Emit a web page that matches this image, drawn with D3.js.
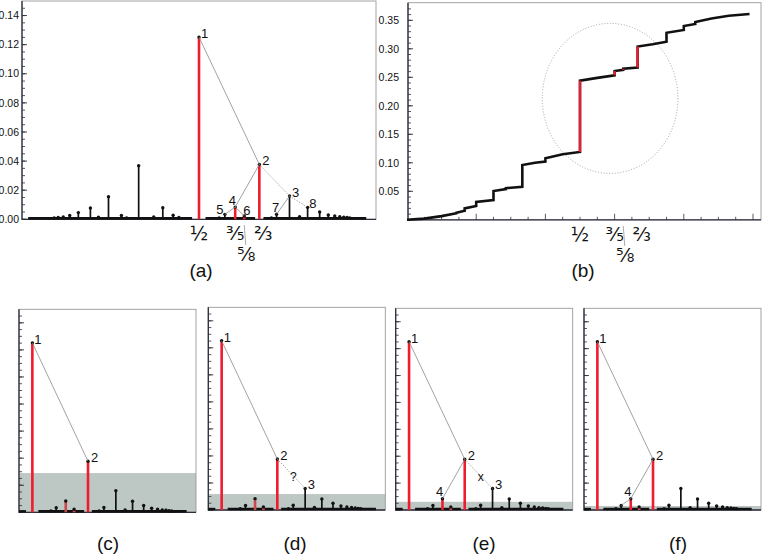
<!DOCTYPE html>
<html>
<head>
<meta charset="utf-8">
<script src="https://cdn.jsdelivr.net/npm/d3@7"></script>
<style>
  body { margin: 0; background: #fff; }
  text { font-family: "Liberation Sans", Arial, sans-serif; fill: #111; }
</style>
</head>
<body>
<svg id="fig" width="763" height="554"></svg>
<script>
// spectrum: one stem per rational, height
const stemFrac = ["1/20","1/12","1/11","1/10","1/9","1/8","1/7","1/6","2/11","1/5","2/9","3/13","1/4","3/11","2/7","3/10",
  "1/3","7/20","4/11","3/8","2/5","5/12","3/7","4/9","5/11","1/2","6/11","5/9","4/7","7/12","3/5","8/13","5/8","7/11",
  "2/3","7/10","5/7","8/11","3/4","10/13","7/9","4/5","9/11","5/6","11/13","6/7","7/8","8/9","9/10","10/11","11/12",
  "12/13","13/14","14/15","19/20"];
const stemHeight = [0.0005,0.0006,0.0008,0.0010,0.0012,0.0016,0.0026,0.0046,0.0006,0.0078,0.0015,0.0005,0.0155,0.0007,0.0026,0.0010,
  0.0368,0.0005,0.0008,0.0016,0.0080,0.0006,0.0028,0.0012,0.0006,0.1252,0.0006,0.0010,0.0034,0.0006,0.0084,0.0005,0.0023,0.0008,
  0.0377,0.0010,0.0035,0.0008,0.0160,0.0005,0.0018,0.0082,0.0007,0.0050,0.0006,0.0030,0.0023,0.0018,0.0015,0.0012,0.0010,
  0.0008,0.0008,0.0006,0.0005];
// dense runs of tiny peaks that look like a thick baseline
const baseRuns = [[0.028, 0.481], [0.518, 0.655], [0.678, 0.962]];
const highlighted = ["1/2", "2/3", "3/5", "5/8"];

// numbered nodes of the search tree
const nodeFrac = ["1/2", "2/3", "3/4", "3/5", "4/7", "5/8", "5/7", "4/5"];
const linksA = [[1, 2], [2, 4], [4, 5], [4, 6], [3, 7]];
const dottedA = [[2, 3], [3, 8]];

// staircase (b)
const stairX = [0, 0.05, 0.10, 0.143, 0.143, 0.1667, 0.1667, 0.2, 0.2, 0.25, 0.25, 0.2857, 0.2857, 0.3333, 0.3333,
  0.37, 0.4, 0.4, 0.45, 0.5, 0.5, 0.55, 0.6, 0.6, 0.625, 0.625, 0.6667, 0.6667, 0.71, 0.75, 0.75, 0.8, 0.8,
  0.8333, 0.8333, 0.88, 0.93, 0.99];
const stairY = [0, 0.002, 0.0065, 0.0115, 0.0125, 0.016, 0.020, 0.0242, 0.0312, 0.0347, 0.0505, 0.054, 0.0555, 0.058, 0.096,
  0.100, 0.102, 0.108, 0.115, 0.119, 0.244, 0.249, 0.2535, 0.261, 0.263, 0.265, 0.267, 0.304, 0.308, 0.3125, 0.328, 0.333, 0.340,
  0.3435, 0.347, 0.353, 0.358, 0.361];
const focusCenter = [0.587, 0.213];
const focusRadius = [0.196, 0.1316];

// axis ticks
const yMajorA = [0, 0.02, 0.04, 0.06, 0.08, 0.10, 0.12, 0.14];
const yMajorB = [0.05, 0.10, 0.15, 0.20, 0.25, 0.30, 0.35];
const xMajorB = [0.2, 0.4, 0.6, 0.8, 1.0];
const axisFrac = ["1/2", "3/5", "2/3", "5/8"];
const axisGlyph = ["½", "⅗", "⅔", "⅝"];

// bottom row: threshold band and what the search has found so far
const panelName = ["(c)", "(d)", "(e)", "(f)"];
const threshold = [0.029, 0.0118, 0.0061, 0.003];
const foundNodes = [[1, 2], [1, 2, 3], [1, 2, 3, 4], [1, 2, 4]];
const panelLinks = [[[1, 2]], [[1, 2]], [[1, 2], [2, 4]], [[1, 2], [2, 4], [4, 5]]];
const panelDotted = [[], [[2, 3]], [[2, 3]], []];
const panelMark = ["", "?", "x", ""];

const svg = d3.select("#fig");
const RED = "#ee1c2c", RED_FADED = "#c9474d", INK = "#111", AXIS = "#2d2d3c", FRAME = "#9a9a9a", LINK = "#8a8a8a";
const frac = s => { const [p, q] = s.split("/").map(Number); return p / q; };
const stems = stemFrac.map((f, i) => ({ f, v: frac(f), h: stemHeight[i] }));
const heightOf = f => stems.find(d => d.f === f).h;

function frame(g, x0, y0, x1, y1) {
  g.append("rect").attr("x", x0).attr("y", y0).attr("width", x1 - x0).attr("height", y1 - y0)
    .attr("fill", "none").attr("stroke", FRAME).attr("stroke-width", 0.9);
  g.append("path").attr("d", `M${x0},${y0}V${y1}H${x1}`)
    .attr("fill", "none").attr("stroke", AXIS).attr("stroke-width", 1.3);
}

function yTicks(g, y, x0, step, top, major, labels, pad) {
  const minor = d3.range(0, top + 1e-9, step);
  g.append("g").selectAll("line").data(minor).join("line")
    .attr("x1", x0).attr("x2", x0 + 3).attr("y1", d => y(d)).attr("y2", d => y(d))
    .attr("stroke", AXIS).attr("stroke-width", 0.8);
  if (major) {
    g.append("g").selectAll("line").data(major).join("line")
      .attr("x1", x0).attr("x2", x0 + 5).attr("y1", d => y(d)).attr("y2", d => y(d))
      .attr("stroke", AXIS).attr("stroke-width", 0.9);
  }
  if (labels) {
    g.append("g").selectAll("text").data(major).join("text")
      .attr("x", x0 - pad).attr("y", d => y(d) + 3.7)
      .attr("text-anchor", "end").attr("font-size", 10.5)
      .text(d3.format(".2f"));
  }
}

function drawStems(g, x, y, xmin, xmax, bright, faded) {
  baseRuns.forEach(r => {
    const a = Math.max(r[0], xmin), b = Math.min(r[1], xmax);
    if (a < b) g.append("line").attr("x1", x(a)).attr("x2", x(b))
      .attr("y1", y(0) - 1).attr("y2", y(0) - 1).attr("stroke", INK).attr("stroke-width", 2.4);
  });
  const vis = stems.filter(d => d.v >= xmin && d.v <= xmax);
  const col = d => bright.includes(d.f) ? RED : faded.includes(d.f) ? RED_FADED : INK;
  g.append("g").selectAll("line").data(vis).join("line")
    .attr("x1", d => x(d.v)).attr("x2", d => x(d.v))
    .attr("y1", y(0)).attr("y2", d => y(d.h))
    .attr("stroke", col)
    .attr("stroke-width", d => col(d) === INK ? 1.7 : 2.6);
  g.append("g").selectAll("circle").data(vis.filter(d => d.h >= 0.001)).join("circle")
    .attr("cx", d => x(d.v)).attr("cy", d => y(d.h)).attr("r", 1.7).attr("fill", INK);
}

const labelOffset = { 1: [2, 1], 2: [3, 1], 3: [2.5, 0.5], 4: [-6.5, -2.5], 5: [-8.5, 0], 6: [-1, -1], 7: [-4.5, -2], 8: [1.7, 1] };

function drawTree(g, x, y, solid, dotted, numbers, mark) {
  const pt = n => { const f = nodeFrac[n - 1]; return [x(frac(f)), y(heightOf(f))]; };
  solid.forEach(([a, b]) => {
    const p = pt(a), q = pt(b);
    g.append("line").attr("x1", p[0]).attr("y1", p[1]).attr("x2", q[0]).attr("y2", q[1])
      .attr("stroke", LINK).attr("stroke-width", 0.8);
  });
  dotted.forEach(([a, b]) => {
    const p = pt(a), q = pt(b);
    g.append("line").attr("x1", p[0]).attr("y1", p[1]).attr("x2", q[0]).attr("y2", q[1])
      .attr("stroke", LINK).attr("stroke-width", 0.9).attr("stroke-dasharray", "1.2,1.6");
    if (mark) g.append("text").attr("x", (p[0] + q[0]) / 2 + 2).attr("y", (p[1] + q[1]) / 2 + 7)
      .attr("text-anchor", "middle").attr("font-size", 12).text(mark);
  });
  numbers.forEach(n => {
    const p = pt(n), o = labelOffset[n];
    g.append("text").attr("x", p[0] + o[0]).attr("y", p[1] + o[1]).attr("font-size", 13).text(n);
  });
}

function fractionLabels(g, x, yBase) {
  axisFrac.forEach((f, i) => {
    const low = f === "5/8";
    const nudge = f === "2/3" ? 4 : (low ? 2 : 0);
    g.append("text").attr("x", x(frac(f)) + nudge).attr("y", low ? yBase + 21 : yBase)
      .attr("text-anchor", "middle").attr("font-size", 19)
      .style("font-family", "'DejaVu Sans', sans-serif").text(axisGlyph[i]);
    if (low) g.append("line").attr("x1", x(frac(f))).attr("y1", yBase - 15)
      .attr("x2", x(frac(f)) + 1.5).attr("y2", yBase + 5).attr("stroke", "#888").attr("stroke-width", 0.7);
  });
}

function panelLabel(text, cx, baseline) {
  svg.append("text").attr("x", cx).attr("y", baseline).attr("text-anchor", "middle")
    .attr("font-size", 19).text(text);
}

// ---- panel (a)
{
  const g = svg.append("g");
  const x = d3.scaleLinear([0, 1], [18, 380]);
  const y = d3.scaleLinear([0, 0.15], [219.3, 1]);
  frame(g, 22, 1, 376, 219.3);
  yTicks(g, y, 22, 0.005, 0.145, yMajorA, true, 3);
  drawStems(g, x, y, 0, 1, highlighted, []);
  drawTree(g, x, y, linksA, dottedA, [1, 2, 3, 4, 5, 6, 7, 8], "");
  fractionLabels(g, x, 240);
  panelLabel("(a)", 201, 277);
}

// ---- panel (b)
{
  const g = svg.append("g");
  const x = d3.scaleLinear([0, 1], [407, 753]);
  const y = d3.scaleLinear([0, 0.38], [219.8, 3.2]);
  frame(g, 408, 2.7, 761, 219.8);
  yTicks(g, y, 408, 0.01, 0.375, yMajorB, true, 9);
  const xs = d3.range(0.05, 1.0001, 0.05);
  g.append("g").selectAll("line").data(xs).join("line")
    .attr("x1", d => x(d)).attr("x2", d => x(d)).attr("y1", y(0))
    .attr("y2", d => y(0) - (xMajorB.some(m => Math.abs(m - d) < 1e-6) ? 6 : 3))
    .attr("stroke", AXIS).attr("stroke-width", 0.8);
  g.append("ellipse").attr("cx", x(focusCenter[0])).attr("cy", y(focusCenter[1]))
    .attr("rx", x(focusCenter[0] + focusRadius[0]) - x(focusCenter[0]))
    .attr("ry", y(0) - y(focusRadius[1]))
    .attr("fill", "none").attr("stroke", "#999").attr("stroke-width", 0.9).attr("stroke-dasharray", "1,1.8");
  const pts = stairX.map((v, i) => [v, stairY[i]]);
  g.append("path").attr("d", d3.line().x(d => x(d[0])).y(d => y(d[1]))(pts))
    .attr("fill", "none").attr("stroke", INK).attr("stroke-width", 2.6).attr("stroke-linejoin", "miter");
  const redVals = highlighted.map(frac);
  pts.forEach((p, i) => {
    if (i && p[0] === pts[i - 1][0] && redVals.some(v => Math.abs(v - p[0]) < 0.001)) {
      g.append("line").attr("x1", x(p[0])).attr("x2", x(p[0]))
        .attr("y1", y(pts[i - 1][1])).attr("y2", y(p[1]))
        .attr("stroke", RED).attr("stroke-width", 2.3);
    }
  });
  fractionLabels(g, x, 241);
  panelLabel("(b)", 583, 277);
}

// ---- panels (c)-(f)
const panelLeft = [19, 208.3, 395.7, 584];
const panelTop = [309.3, 307.3, 308.3, 308.3];
const panelBottom = [512.3, 510, 510, 510];
const panelLabelX = [108, 295, 484, 678];
panelName.forEach((name, k) => {
  const g = svg.append("g");
  const x0 = panelLeft[k], x1 = x0 + 177;
  const x = d3.scaleLinear([0.46, 0.99], [x0, x1]);
  const y = d3.scaleLinear([0, 0.15], [panelBottom[k], panelTop[k]]);
  g.append("rect").attr("x", x0).attr("y", y(threshold[k])).attr("width", x1 - x0)
    .attr("height", y(0) - y(threshold[k])).attr("fill", "#bdc7c3");
  frame(g, x0, panelTop[k], x1, panelBottom[k]);
  yTicks(g, y, x0, 0.005, 0.149, d3.range(0, 0.15, 0.02), false, 0);
  const found = foundNodes[k].map(n => nodeFrac[n - 1]);
  const bright = highlighted.filter(f => found.includes(f));
  const faded = highlighted.filter(f => !found.includes(f));
  drawStems(g, x, y, 0.46, 0.99, bright, faded);
  drawTree(g, x, y, panelLinks[k], panelDotted[k], foundNodes[k], panelMark[k]);
  panelLabel(name, panelLabelX[k], 550);
});
</script>
</body>
</html>
